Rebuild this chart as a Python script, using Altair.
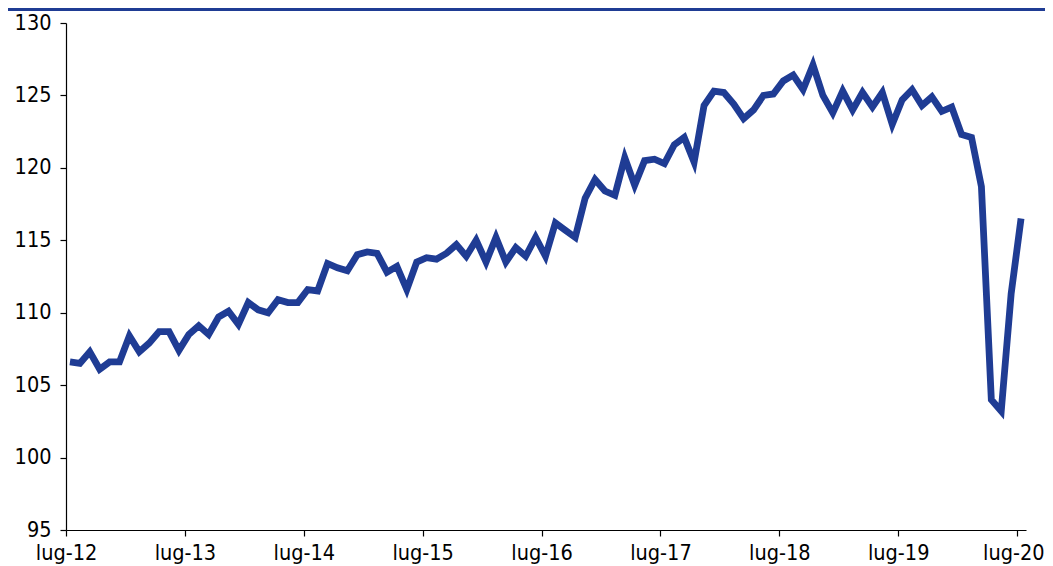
import altair as alt
import pandas as pd

# Monthly index values, Jul 2012 .. Jul 2020
values = [
    106.6, 106.5, 107.3, 106.1, 106.6, 106.6, 108.4, 107.3, 107.9, 108.7, 108.7, 107.4,
    108.5, 109.1, 108.5, 109.7, 110.1, 109.2, 110.7, 110.2, 110.0, 110.9, 110.7, 110.7,
    111.6, 111.5, 113.4, 113.1, 112.9, 114.0, 114.2, 114.1, 112.8, 113.2, 111.6, 113.5,
    113.8, 113.7, 114.1, 114.7, 113.9, 115.0, 113.5, 115.2, 113.5, 114.5, 113.9, 115.2,
    113.9, 116.2, 115.7, 115.2, 117.9, 119.2, 118.4, 118.1, 120.7, 118.8, 120.5, 120.6,
    120.3, 121.6, 122.1, 120.4, 124.3, 125.3, 125.2, 124.4, 123.4, 124.0, 125.0, 125.1,
    126.0, 126.4, 125.4, 127.1, 125.0, 123.8, 125.3, 124.0, 125.2, 124.2, 125.2, 123.0,
    124.7, 125.4, 124.3, 124.9, 123.9, 124.2, 122.3, 122.1, 118.7, 104.0, 103.2, 111.3,
    116.5,
]
tick_labels = ["lug-12", "lug-13", "lug-14", "lug-15", "lug-16", "lug-17", "lug-18", "lug-19", "lug-20"]
y_ticks = [95, 100, 105, 110, 115, 120, 125, 130]

tick_pos = [12 * k for k in range(len(tick_labels))]
last_tick = tick_pos[-1]
df = pd.DataFrame({"m": [i + 0.4 for i in range(len(values))], "v": values})

BLUE = "#1f3c94"
FONT = "Liberation Sans Narrow, Arial Narrow, DejaVu Sans Condensed, sans-serif"

label_expr = "[" + ",".join("'%s'" % t for t in tick_labels) + "][round(datum.value/12)]"
is_last = "datum.value == %d" % last_tick

line = alt.Chart(df).mark_line(color=BLUE, strokeWidth=6.8, strokeJoin="miter", strokeCap="butt").encode(
    x=alt.X("m:Q", scale=alt.Scale(domain=[0, 96.9], nice=False, zero=False),
            axis=alt.Axis(values=tick_pos, labelExpr=label_expr, title=None, grid=False,
                          tickSize=6, labelPadding=6, domainColor="#000", tickColor="#000",
                          labelColor="#000", labelFontSize=21.5, labelFont=FONT, labelFlush=False,
                          labelAlign=alt.condition(is_last, alt.value("right"), alt.value("center")),
                          labelOffset=alt.condition(is_last, alt.value(27), alt.value(0)))),
    y=alt.Y("v:Q", scale=alt.Scale(domain=[95, 130], nice=False, zero=False),
            axis=alt.Axis(values=y_ticks, title=None, grid=False, tickSize=6, labelPadding=9,
                          domainColor="#000", tickColor="#000", labelColor="#000",
                          labelFontSize=21.5, labelFont=FONT)),
)

bar = alt.Chart(pd.DataFrame({"a": [0]})).mark_rect(color=BLUE).encode(
    x=alt.value(-58), x2=alt.value(1037 - 58), y=alt.value(-15), y2=alt.value(-12)
)

chart = alt.layer(line, bar).properties(
    width=960, height=507,
    autosize=alt.AutoSizeParams(type="none"),
    padding={"left": 58, "top": 15, "right": 19, "bottom": 36},
).configure_view(stroke=None).configure_axis(domainWidth=1.2, tickWidth=1.2)

chart.save("out.html", embed_options={"renderer": "svg", "actions": False})
